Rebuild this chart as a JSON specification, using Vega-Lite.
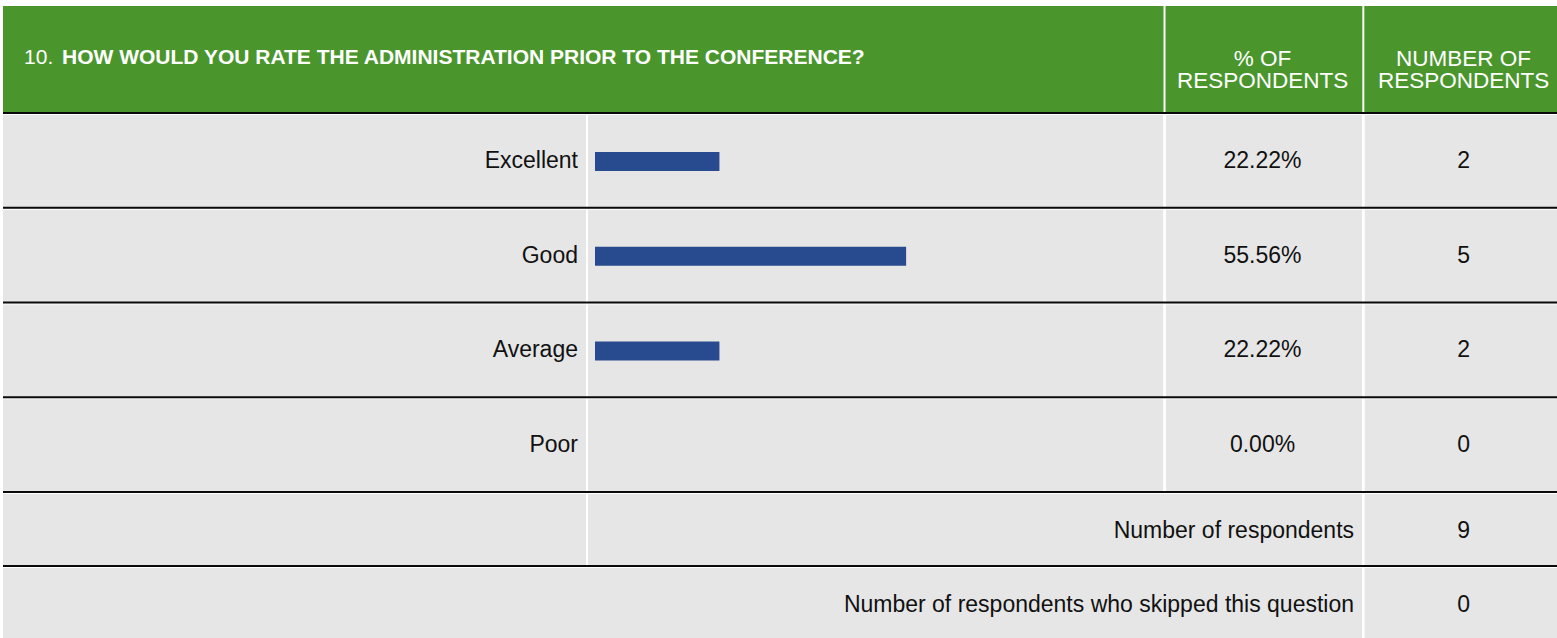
{
  "$schema": "https://vega.github.io/schema/vega-lite/v6.json",
  "background": "white",
  "padding": {"left": 2, "top": 5, "right": 0, "bottom": 0},
  "spacing": 0,
  "bounds": "flush",
  "config": {
    "axis": {"disable": true},
    "view": {"stroke": null},
    "text": {"font": "Liberation Sans", "fontSize": 23, "color": "#111111"}
  },
  "datasets": {
    "answers": [
      {"answer": "Excellent", "pct": 0.2222, "count": 2},
      {"answer": "Good", "pct": 0.5556, "count": 5},
      {"answer": "Average", "pct": 0.2222, "count": 2},
      {"answer": "Poor", "pct": 0.0, "count": 0}
    ],
    "summary": [
      {"row": "Number of respondents", "count": 9},
      {"row": "Number of respondents who skipped this question", "count": 0}
    ],
    "header": [
      {"question": "HOW WOULD YOU RATE THE ADMINISTRATION PRIOR TO THE CONFERENCE?", "number": "10."}
    ]
  },
  "vconcat": [
    {
      "width": 1555,
      "height": 106,
      "view": {"fill": "#4a962d", "stroke": null},
      "data": {"name": "header"},
      "layer": [
        {
          "mark": {"type": "rule", "color": "white", "strokeWidth": 2},
          "encoding": {"x": {"datum": 1.017, "type": "quantitative", "scale": {"domain": [-1.05714, 1.71964], "nice": false, "zero": false}}}
        },
        {
          "mark": {"type": "rule", "color": "white", "strokeWidth": 2},
          "encoding": {"x": {"datum": 1.372, "type": "quantitative", "scale": {"domain": [-1.05714, 1.71964], "nice": false, "zero": false}}}
        },
        {
          "mark": {"type": "text", "align": "left", "baseline": "middle", "color": "white", "fontSize": 21, "yOffset": -1},
          "encoding": {
            "x": {"datum": -1.0196, "type": "quantitative", "scale": {"domain": [-1.05714, 1.71964], "nice": false, "zero": false}},
            "text": {"field": "number"}
          }
        },
        {
          "mark": {"type": "text", "align": "left", "baseline": "middle", "color": "white", "fontSize": 21, "fontWeight": "bold", "yOffset": -1},
          "encoding": {
            "x": {"datum": -0.9518, "type": "quantitative", "scale": {"domain": [-1.05714, 1.71964], "nice": false, "zero": false}},
            "text": {"field": "question"}
          }
        },
        {
          "mark": {"type": "text", "align": "center", "baseline": "middle", "color": "white", "fontSize": 22.5, "lineHeight": 22},
          "encoding": {
            "x": {"datum": 1.192, "type": "quantitative", "scale": {"domain": [-1.05714, 1.71964], "nice": false, "zero": false}},
            "text": {"value": ["% OF", "RESPONDENTS"]}
          }
        },
        {
          "mark": {"type": "text", "align": "center", "baseline": "middle", "color": "white", "fontSize": 22.5, "lineHeight": 22},
          "encoding": {
            "x": {"datum": 1.551, "type": "quantitative", "scale": {"domain": [-1.05714, 1.71964], "nice": false, "zero": false}},
            "text": {"value": ["NUMBER OF", "RESPONDENTS"]}
          }
        }
      ]
    },
    {
      "width": 1555,
      "height": 379,
      "view": {"fill": "#e6e6e6", "stroke": null},
      "data": {"name": "answers"},
      "encoding": {
        "y": {"field": "answer", "type": "nominal", "scale": {"domain": ["Excellent", "Good", "Average", "Poor"], "paddingInner": 0, "paddingOuter": 0}}
      },
      "layer": [
        {
          "mark": {"type": "rule", "color": "white", "strokeWidth": 2},
          "encoding": {"y": null, "x": {"datum": -0.0143, "type": "quantitative", "scale": {"domain": [-1.05714, 1.71964], "nice": false, "zero": false}}}
        },
        {
          "mark": {"type": "rule", "color": "white", "strokeWidth": 2},
          "encoding": {"y": null, "x": {"datum": 1.017, "type": "quantitative", "scale": {"domain": [-1.05714, 1.71964], "nice": false, "zero": false}}}
        },
        {
          "mark": {"type": "rule", "color": "white", "strokeWidth": 2},
          "encoding": {"y": null, "x": {"datum": 1.372, "type": "quantitative", "scale": {"domain": [-1.05714, 1.71964], "nice": false, "zero": false}}}
        },
        {
          "mark": {"type": "rule", "color": "white", "strokeWidth": 1, "yOffset": 2.5},
          "encoding": {"y": {"field": "answer", "type": "nominal", "bandPosition": 0}}
        },
        {
          "mark": {"type": "rule", "color": "#0a0a0a", "strokeWidth": 2, "yOffset": 1},
          "encoding": {"y": {"field": "answer", "type": "nominal", "bandPosition": 0}}
        },
        {
          "mark": {"type": "bar", "color": "#284a8e", "size": 19, "yOffset": 2},
          "encoding": {
            "x": {"field": "pct", "type": "quantitative", "scale": {"domain": [-1.05714, 1.71964], "nice": false, "zero": false}},
            "x2": {"datum": 0}
          }
        },
        {
          "mark": {"type": "text", "align": "right", "baseline": "middle", "yOffset": 1.5},
          "encoding": {
            "x": {"datum": -0.0304, "type": "quantitative", "scale": {"domain": [-1.05714, 1.71964], "nice": false, "zero": false}},
            "text": {"field": "answer"}
          }
        },
        {
          "mark": {"type": "text", "align": "center", "baseline": "middle", "yOffset": 1.5},
          "encoding": {
            "x": {"datum": 1.192, "type": "quantitative", "scale": {"domain": [-1.05714, 1.71964], "nice": false, "zero": false}},
            "text": {"field": "pct", "type": "quantitative", "format": ".2%"}
          }
        },
        {
          "mark": {"type": "text", "align": "center", "baseline": "middle", "yOffset": 1.5},
          "encoding": {
            "x": {"datum": 1.551, "type": "quantitative", "scale": {"domain": [-1.05714, 1.71964], "nice": false, "zero": false}},
            "text": {"field": "count", "type": "quantitative"}
          }
        }
      ]
    },
    {
      "width": 1555,
      "height": 148,
      "view": {"fill": "#e6e6e6", "stroke": null},
      "data": {"name": "summary"},
      "encoding": {
        "y": {"field": "row", "type": "nominal", "scale": {"domain": ["Number of respondents", "Number of respondents who skipped this question"], "paddingInner": 0, "paddingOuter": 0}}
      },
      "layer": [
        {
          "mark": {"type": "rule", "color": "white", "strokeWidth": 2},
          "encoding": {"y": null, "x": {"datum": 1.372, "type": "quantitative", "scale": {"domain": [-1.05714, 1.71964], "nice": false, "zero": false}}}
        },
        {
          "transform": [{"filter": "datum.row === 'Number of respondents'"}],
          "mark": {"type": "rect", "color": "white"},
          "encoding": {
            "x": {"datum": -0.016, "type": "quantitative", "scale": {"domain": [-1.05714, 1.71964], "nice": false, "zero": false}},
            "x2": {"datum": -0.0125}
          }
        },
        {
          "mark": {"type": "rule", "color": "white", "strokeWidth": 1, "yOffset": 2.5},
          "encoding": {"y": {"field": "row", "type": "nominal", "bandPosition": 0}}
        },
        {
          "mark": {"type": "rule", "color": "#0a0a0a", "strokeWidth": 2, "yOffset": 1},
          "encoding": {"y": {"field": "row", "type": "nominal", "bandPosition": 0}}
        },
        {
          "mark": {"type": "text", "align": "right", "baseline": "middle", "yOffset": 2.5},
          "encoding": {
            "x": {"datum": 1.3554, "type": "quantitative", "scale": {"domain": [-1.05714, 1.71964], "nice": false, "zero": false}},
            "text": {"field": "row"}
          }
        },
        {
          "mark": {"type": "text", "align": "center", "baseline": "middle", "yOffset": 2.5},
          "encoding": {
            "x": {"datum": 1.551, "type": "quantitative", "scale": {"domain": [-1.05714, 1.71964], "nice": false, "zero": false}},
            "text": {"field": "count", "type": "quantitative"}
          }
        }
      ]
    }
  ]
}
